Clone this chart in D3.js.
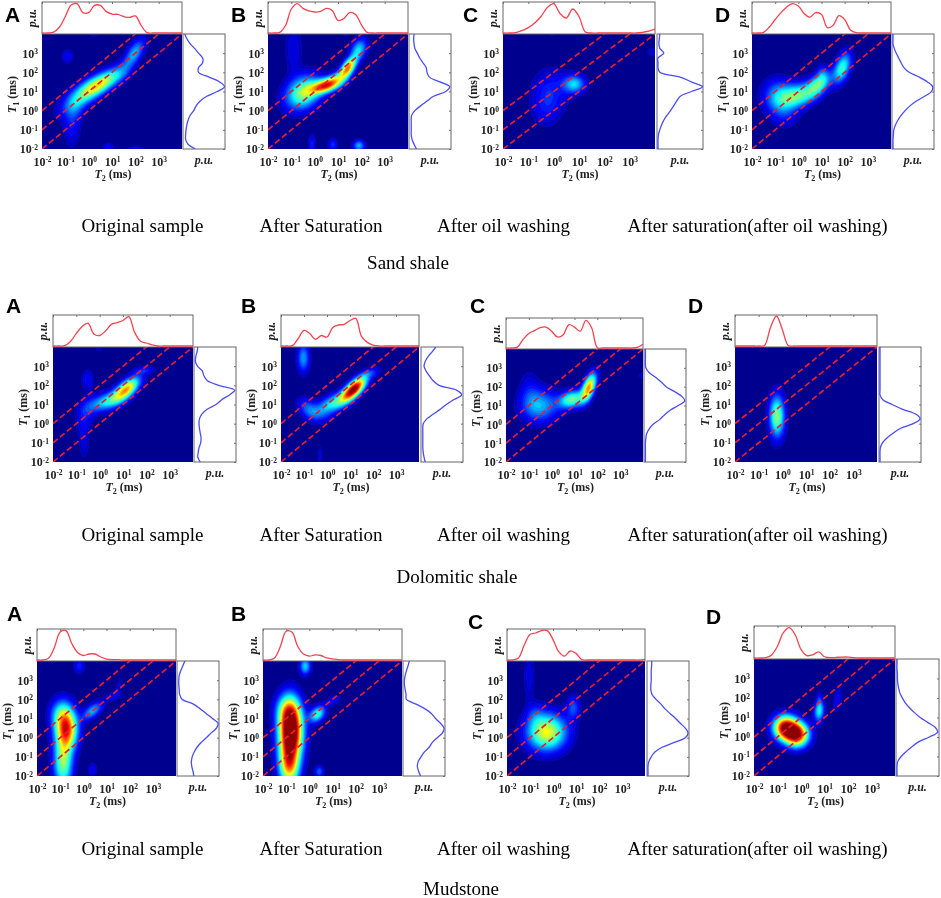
<!DOCTYPE html>
<html><head><meta charset="utf-8">
<script src="https://cdn.jsdelivr.net/npm/d3@7"></script>
<style>
html,body{margin:0;padding:0;background:#fff}
svg{display:block;filter:blur(.35px)}
.tick text{font-family:"Liberation Serif",serif;font-weight:bold;font-size:12px;fill:#222}
.cap{font-family:"Liberation Serif",serif;font-size:19px;fill:#000;text-anchor:middle}
.let{font-family:"Liberation Sans",sans-serif;font-weight:bold;font-size:21px;fill:#000}
.lab{font-family:"Liberation Serif",serif;font-weight:bold;font-size:12px;fill:#222;text-anchor:middle}
</style></head><body><div id="c"></div>
<script>
// ---------- shared categories / ticks
const rowNames = ["Sand shale","Dolomitic shale","Mudstone"];
const stageNames = ["Original sample","After Saturation","After oil washing","After saturation(after oil washing)"];
const panelLetters = ["A","B","C","D"];
const tickValues = [1e-2,1e-1,1e0,1e1,1e2,1e3];
const ratioLines = [100,10,1];
// log10 sampling of the projections (both T2 and T1)
const logGrid = [-2,-1.75,-1.5,-1.25,-1,-.75,-.5,-.25,0,.25,.5,.75,1,1.25,1.5,1.75,2,2.25,2.5,2.75,3,3.25,3.5,3.75,4];

// ---------- T2 projections (top curves) and T1 projections (right curves)
const sandA_T2=[0,0,.03,.2,.55,.93,.98,.68,.68,.92,.92,.72,.63,.62,.55,.52,.57,.25,.01,0,0,0,0,0,0];
const sandA_T1=[.28,.1,.04,.04,.05,.07,.1,.15,.24,.3,.4,.56,.82,1,.88,.62,.36,.36,.46,.46,.36,.26,.15,.07,.02];
const sandB_T2=[0,0,.02,.25,.8,.98,.82,.74,.7,.72,.82,.75,.42,.48,.68,.62,.28,.02,0,0,0,0,0,0,0];
const sandB_T1=[.16,.1,.05,.03,.03,.03,.03,.04,.12,.26,.42,.58,.88,.98,.74,.48,.42,.4,.32,.24,.18,.12,.1,.09,.1];
const sandC_T2=[0,0,.01,.08,.18,.33,.55,.85,.98,.65,.5,.8,.55,.03,0,0,0,0,0,0,0,0,.02,.06,.13];
const sandC_T1=[0,0,0,.01,.04,.08,.13,.2,.28,.35,.42,.5,.75,1,.75,.5,.04,0,0,0,.13,.04,.02,.03,.04];
const sandD_T2=[0,0,.02,.2,.45,.68,.87,.98,.9,.65,.53,.68,.62,.18,.25,.58,.45,.1,.01,0,0,0,0,0,0];
const sandD_T1=[0,0,0,.01,.02,.06,.12,.2,.3,.42,.58,.78,.95,.98,.85,.65,.4,.27,.2,.14,.08,.03,0,0,0];
const doloA_T2=[0,0,.01,.15,.42,.65,.76,.4,.35,.5,.72,.78,.85,.98,.45,.16,.1,.04,0,0,0,0,0,0,0];
const doloA_T1=[.13,.07,.08,.1,.14,.15,.13,.11,.1,.11,.17,.3,.52,.66,.85,.98,.58,.3,.22,.18,.06,.01,.02,.05,.07];
const doloB_T2=[0,0,.01,.25,.52,.42,.22,.35,.3,.62,.7,.72,.85,.92,.32,.12,.03,0,0,0,0,0,0,0,0];
const doloB_T1=[.08,.05,.03,.02,.02,.02,.02,.02,.03,.12,.28,.45,.6,.78,.98,.85,.42,.27,.18,.1,.05,.08,.15,.25,.34];
const doloC_T2=[0,0,.03,.3,.5,.6,.7,.72,.58,.38,.45,.8,.72,.58,.95,.7,.01,0,0,0,0,0,0,.02,.13];
const doloC_T1=[.01,.01,.01,.01,.01,.02,.04,.1,.2,.36,.48,.62,.82,.98,.9,.72,.52,.4,.26,.1,.02,.01,.01,.01,.01];
const doloD_T2=[0,0,0,0,0,.02,.62,1,.55,.02,0,0,0,0,0,0,0,0,0,0,0,0,0,0,0];
const doloD_T1=[0,0,0,.01,.06,.17,.32,.5,.82,.99,.88,.56,.3,.07,0,0,0,0,0,0,0,0,0,0,0];
const mudA_T2=[0,0,.06,.42,.93,.98,.55,.25,.15,.2,.2,.1,.03,.01,.01,0,0,0,0,0,0,0,0,0,0];
const mudA_T1=[.39,.37,.34,.33,.35,.4,.47,.57,.7,.82,.95,.99,.85,.7,.55,.38,.1,.04,.03,.02,.02,.03,.07,.12,.17];
const mudB_T2=[0,0,.07,.45,.96,.93,.45,.2,.13,.17,.15,.07,.04,.01,0,0,0,0,0,0,0,0,0,0,0];
const mudB_T1=[.41,.36,.33,.35,.42,.5,.62,.7,.82,.95,.99,.9,.78,.68,.52,.3,.06,.05,.03,.01,.01,.03,.06,.1,.13];
const mudC_T2=[0,0,.07,.5,.85,.9,.98,.98,.68,.28,.13,.3,.22,.01,0,0,0,0,0,0,0,0,0,0,.02];
const mudC_T1=[0,0,0,.02,.08,.17,.35,.65,.92,.99,.92,.8,.68,.55,.42,.32,.2,.1,.07,.07,.08,.08,.08,.09,.09];
const mudD_T2=[0,0,.01,.1,.38,.82,.98,.75,.28,.08,.1,.2,.04,.01,.02,.03,.03,.01,0,0,0,0,0,0,0];
const mudD_T1=[0,0,0,.02,.1,.22,.36,.52,.78,.98,.92,.74,.56,.42,.3,.2,.13,.07,.04,.02,.01,.01,0,0,0];

// ---------- T2-T1 map peaks: [log T2, log T1, spread T2, spread T1, tilt, amplitude]
const sandA_map=[[.4,1.32,.5,.44,.6,.5],[-.35,.7,.58,.6,.65,.32],[-.65,-.2,.28,.6,.2,.12],[-.75,-1.2,.24,.6,0,.08],[1.05,1.8,.38,.38,.4,.18],[1.5,2.1,.3,.42,.4,.1],[1.95,3,.3,.5,.6,.3],[-.93,2.8,.17,.26,0,.12],[.82,-1.95,.17,.17,0,.12],[2,-2,.27,.12,0,.09],[.2,4,.14,.12,0,.09]];
const sandB_map=[[.5,1.3,.45,.28,.5,.82],[1.41,2.22,.24,.38,.6,.75],[-.5,.92,.52,.6,.25,.52],[.95,1.75,.3,.25,.5,.2],[1.87,3.18,.24,.38,.25,.33],[-.93,3.2,.25,.9,0,.1],[-.14,-1.75,.1,.32,0,.15],[.75,-1.8,.13,.22,0,.17],[1.87,-1.85,.17,.2,0,.3],[1.3,4,.14,.11,0,.08]];
const sandC_map=[[.79,1.36,.3,.33,0,.33],[-.13,1.1,.5,.75,0,.13],[-.33,.05,.4,.65,0,.1],[3.88,3.04,.16,.16,0,.09],[-.1,3.95,.1,.12,0,.05]];
const sandD_map=[[-.08,.75,.55,.45,.3,.44],[.86,1.36,.36,.45,.5,.42],[1.87,2.2,.26,.55,.45,.42],[-.9,.75,.45,.6,0,.26],[-.6,-.3,.42,.45,0,.1],[1,1.95,.15,.33,0,.1]];
const doloA_map=[[1.13,1.79,.38,.42,.65,.68],[.3,1.14,.55,.36,.5,.36],[-.64,.44,.28,.6,.25,.12],[-.7,-.95,.17,.7,0,.08],[-.54,2.28,.18,.36,0,.12],[1.87,2.75,.32,.15,.25,.13],[-.06,3.85,.14,.1,0,.06]];
const doloB_map=[[1.15,1.79,.36,.42,.7,1.0],[.28,1.05,.55,.4,.6,.38],[-.87,.8,.3,.36,-.35,.2],[1.87,2.62,.32,.18,.45,.13],[-1.05,3.4,.18,.52,0,.28],[-.33,-1.65,.07,.3,0,.1],[-.3,.35,.38,.3,0,.1]];
const doloC_map=[[1.6,1.94,.22,.5,.55,.72],[.86,1.3,.38,.32,.25,.48],[-.53,.96,.55,.6,0,.3],[-1,1.76,.3,.75,0,.09],[3.93,2.57,.13,.16,0,.07]];
const doloD_map=[[-.25,.36,.22,.75,0,.52]];
const mudA_map=[[-.75,.41,.32,.72,0,.8],[-.9,-1.34,.28,.9,0,.5],[-1,1.2,.32,.55,0,.28],[.37,1.37,.3,.33,.6,.3],[1.3,2.15,.25,.18,.35,.1],[1.5,2.7,.1,.36,.7,.08],[-.2,3.72,.16,.28,0,.15],[.37,-1.7,.13,.25,0,.12]];
const mudB_map=[[-.83,.32,.34,1.0,0,1.25],[-.9,-1.5,.3,.75,0,.62],[-.97,1.45,.34,.55,0,.3],[.32,1.2,.24,.3,.35,.42],[1,1.9,.22,.17,.45,.13],[-.2,3.7,.16,.3,0,.34],[.4,-1.8,.13,.21,0,.22]];
const mudC_map=[[-.3,.26,.58,.65,0,.62],[.86,1.54,.2,.42,0,.2],[-1.06,3.2,.17,.95,0,.09],[-.8,1.2,.26,.42,0,.1],[3.85,3.2,.1,.16,0,.05]];
const mudD_map=[[-.7,.45,.34,.42,0,.95],[-.2,.1,.34,.42,0,.95],[.75,1.31,.15,.38,.15,.38],[1.53,1.9,.13,.44,.5,.12],[.75,1.95,.07,.3,0,.1]];

const dataT2=[sandA_T2,sandB_T2,sandC_T2,sandD_T2,doloA_T2,doloB_T2,doloC_T2,doloD_T2,mudA_T2,mudB_T2,mudC_T2,mudD_T2];
const dataT1=[sandA_T1,sandB_T1,sandC_T1,sandD_T1,doloA_T1,doloB_T1,doloC_T1,doloD_T1,mudA_T1,mudB_T1,mudC_T1,mudD_T1];
const dataMap=[sandA_map,sandB_map,sandC_map,sandD_map,doloA_map,doloB_map,doloC_map,doloD_map,mudA_map,mudB_map,mudC_map,mudD_map];

// ---------- layout (pixels): map x0,x1,y0,y1, top-plot y0, right-plot x0,x1, letter x,baseline
const layout=[
 [42,182,34,149,2,183,225,5,22],[268,408,34,149,2,409,451,231,22],[503,655,34,149,2,657,703,463,22],[752,891,34,149,2,892,934,715,22],
 [53,193,347,462,315,194,236,6,313],[281,419,347,462,315,421,463,241,313],[506,643,349,462,318,644,686,470,313],[735,877,347,462,315,879,921,688,313],
 [37,176,661,776,629,177,219,7,621],[263,402,661,776,629,403,445,231,621],[507,645,661,776,629,647,689,468,629],[754,895,659,776,626,896,939,706,624]];
const captionX=[142.5,321,503.5,757.5], captionY=[232,541,855], titleX=[408,457,461], titleY=[269,583,895];

const jet=d3.scaleLinear().domain([0,.125,.375,.625,.875,1]).range(["#00008f","#0000ff","#00ffff","#ffff00","#ff0000","#800000"]);
const levels=d3.range(.04,1.0,.03);

const svg=d3.select("#c").append("svg").attr("width",941).attr("height",898).attr("viewBox","0 0 941 898");
const defs=svg.append("defs");

function exponentLabels(sel,anchor){
  sel.selectAll(".tick text").each(function(d){
    const t=d3.select(this).text(null).attr("text-anchor",anchor);
    t.append("tspan").text("10");
    t.append("tspan").attr("dy","-0.45em").attr("font-size","7.5px").text(Math.round(Math.log10(d)));
  });
}
function plainAxis(sel){sel.select(".domain").remove();sel.selectAll(".tick line").attr("stroke","#777");}

layout.forEach((L,i)=>{
  const [x0,x1,y0,y1,ty0,rx0,rx1,lx,ly]=L;
  const g=svg.append("g");
  const sx=d3.scaleLog().domain([1e-2,1e4]).range([x0,x1]);
  const sy=d3.scaleLog().domain([1e-2,1e4]).range([y1,y0]);
  const clip="cl"+i, clipT="ct"+i, clipR="cr"+i;
  defs.append("clipPath").attr("id",clip).append("rect").attr("x",x0).attr("y",y0).attr("width",x1-x0).attr("height",y1-y0);
  defs.append("clipPath").attr("id",clipT).append("rect").attr("x",x0).attr("y",ty0).attr("width",x1-x0).attr("height",y0-ty0);
  defs.append("clipPath").attr("id",clipR).append("rect").attr("x",rx0).attr("y",y0).attr("width",rx1-rx0).attr("height",y1-y0);

  // map
  g.append("rect").attr("x",x0).attr("y",y0).attr("width",x1-x0).attr("height",y1-y0).attr("fill",jet(0));
  const nx=125,ny=125,lo=-2.2,hi=4.2;
  const gv=k=>lo+k*(hi-lo)/(nx-1);
  const vals=new Float64Array(nx*ny);
  for(let b=0;b<ny;b++)for(let a=0;a<nx;a++){
    let s=0;
    dataMap[i].forEach(([mx,my,wx,wy,r,amp])=>{
      const dx=(gv(a)-mx)/wx,dy=(gv(b)-my)/wy;
      s+=amp*Math.exp(-.5*(dx*dx-2*r*dx*dy+dy*dy)/(1-r*r));
    });
    vals[b*nx+a]=s;
  }
  const proj=d3.geoTransform({point(px,py){this.stream.point(sx(Math.pow(10,gv(px))),sy(Math.pow(10,gv(py))));}});
  const path=d3.geoPath(proj);
  const cg=g.append("g").attr("clip-path",`url(#${clip})`);
  cg.selectAll("path.ct").data(d3.contours().size([nx,ny]).thresholds(levels)(vals)).join("path")
    .attr("class","ct").attr("d",path).attr("fill",d=>jet(Math.min(1,d.value+.015)))
    .attr("stroke","rgba(255,255,255,.07)").attr("stroke-width",.4);
  ratioLines.forEach(k=>{
    cg.append("path").datum([1e-2,1e4]).attr("fill","none").attr("stroke","#e61f2e").attr("stroke-width",1.7).attr("stroke-dasharray","6 3")
      .attr("d",d3.line().x(d=>sx(d)).y(d=>sy(d*k)));
  });

  // axes
  const xa=g.append("g").attr("transform",`translate(0,${y1})`).call(d3.axisBottom(sx).tickValues(tickValues).tickSize(0).tickPadding(8));
  xa.select(".domain").remove();exponentLabels(xa,"middle");
  const ya=g.append("g").attr("transform",`translate(${x0},0)`).call(d3.axisLeft(sy).tickValues(tickValues).tickSize(0).tickPadding(4));
  ya.select(".domain").remove();exponentLabels(ya,"end");

  // axis titles
  const xt=g.append("text").attr("class","lab").attr("x",(x0+x1)/2+1).attr("y",y1+29);
  xt.append("tspan").attr("font-style","italic").text("T");
  xt.append("tspan").attr("dy",3).attr("font-size","8px").text("2");
  xt.append("tspan").attr("dy",-3).text(" (ms)");
  const yt=g.append("text").attr("class","lab").attr("transform",`translate(${x0-26},${(y0+y1)/2+3}) rotate(-90)`);
  yt.append("tspan").attr("font-style","italic").text("T");
  yt.append("tspan").attr("dy",3).attr("font-size","8px").text("1");
  yt.append("tspan").attr("dy",-3).text(" (ms)");
  g.append("text").attr("class","lab").attr("font-style","italic").attr("x",(rx0+rx1)/2).attr("y",y1+15).text("p.u.");
  g.append("text").attr("class","lab").attr("font-style","italic").attr("transform",`translate(${x0-6},${(ty0+y0)/2}) rotate(-90)`).text("p.u.");

  // top plot
  const ty=d3.scaleLinear().domain([0,1]).range([y0-1,ty0+1]);
  const tax=g.append("g").attr("transform",`translate(0,${ty0})`).call(d3.axisBottom(sx).tickValues(tickValues).tickFormat("").tickSize(2));plainAxis(tax);
  g.append("rect").attr("x",x0).attr("y",ty0).attr("width",x1-x0).attr("height",y0-ty0).attr("fill","none").attr("stroke","#666");
  g.append("path").datum(dataT2[i]).attr("fill","none").attr("stroke","#f5424f").attr("stroke-width",1.3).attr("clip-path",`url(#${clipT})`)
    .attr("d",d3.line().curve(d3.curveCatmullRom.alpha(.5)).x((d,k)=>sx(Math.pow(10,logGrid[k]))).y(d=>ty(d)));

  // right plot
  const rx=d3.scaleLinear().domain([0,1]).range([rx0+1,rx1-.5]);
  const rax=g.append("g").attr("transform",`translate(${rx1},0)`).call(d3.axisRight(sy).tickValues(tickValues).tickFormat("").tickSize(-2));plainAxis(rax);
  g.append("rect").attr("x",rx0).attr("y",y0).attr("width",rx1-rx0).attr("height",y1-y0).attr("fill","none").attr("stroke","#666");
  g.append("path").datum(dataT1[i]).attr("fill","none").attr("stroke","#4a4cf5").attr("stroke-width",1.3).attr("clip-path",`url(#${clipR})`)
    .attr("d",d3.line().curve(d3.curveCatmullRom.alpha(.5)).x(d=>rx(d)).y((d,k)=>sy(Math.pow(10,logGrid[k]))));

  g.append("text").attr("class","let").attr("x",lx).attr("y",ly).text(panelLetters[i%4]);
});

rowNames.forEach((name,r)=>{
  stageNames.forEach((s,c)=>svg.append("text").attr("class","cap").attr("x",captionX[c]).attr("y",captionY[r]).text(s));
  svg.append("text").attr("class","cap").attr("x",titleX[r]).attr("y",titleY[r]).text(name);
});
</script></body></html>
